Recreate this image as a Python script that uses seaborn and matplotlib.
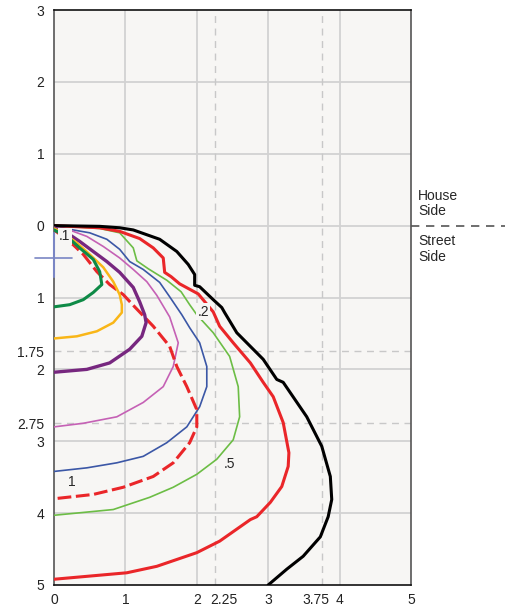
import numpy as np
import pandas as pd
import matplotlib
matplotlib.use("Agg")
import matplotlib.pyplot as plt
import matplotlib.transforms as mtransforms
import seaborn as sns

# contour curves (x = distance, y = depth, negative = street side)
black_x = [0, 0.64, 0.92, 1.11, 1.48, 1.72, 1.88, 1.97, 1.97, 2.04, 2.23, 2.35, 2.39, 2.56, 2.79, 2.93, 3.12, 3.21, 3.54, 3.75, 3.87, 3.89, 3.84, 3.73, 3.49, 3.26, 3.00]
black_y = [0, -0.01, -0.03, -0.06, -0.19, -0.36, -0.54, -0.68, -0.83, -0.85, -1.03, -1.14, -1.21, -1.49, -1.72, -1.86, -2.14, -2.18, -2.66, -3.07, -3.49, -3.81, -4.05, -4.33, -4.60, -4.78, -5.0]

red_x = [0, 0.64, 0.92, 1.20, 1.39, 1.53, 1.55, 1.64, 1.76, 2.02, 2.23, 2.32, 2.51, 2.75, 2.93, 3.07, 3.21, 3.29, 3.28, 3.19, 3.03, 2.84, 2.75, 2.32, 2.00, 1.44, 1.02, 0]
red_y = [0, -0.03, -0.08, -0.18, -0.31, -0.45, -0.65, -0.71, -0.81, -0.95, -1.20, -1.40, -1.63, -1.91, -2.18, -2.38, -2.74, -3.16, -3.35, -3.63, -3.85, -4.05, -4.09, -4.39, -4.55, -4.74, -4.83, -4.92]

lgreen_x = [0, 0.64, 0.92, 1.11, 1.16, 1.32, 1.58, 1.78, 1.90, 2.00, 2.23, 2.46, 2.58, 2.60, 2.51, 2.28, 2.00, 1.67, 1.34, 0.83, 0]
lgreen_y = [0, -0.04, -0.10, -0.31, -0.49, -0.60, -0.76, -0.92, -1.10, -1.24, -1.49, -1.82, -2.24, -2.66, -2.98, -3.25, -3.46, -3.64, -3.78, -3.95, -4.03]

blue_x = [0, 0.27, 0.50, 0.74, 0.92, 1.06, 1.25, 1.48, 1.62, 1.79, 1.90, 2.04, 2.14, 2.14, 2.04, 1.86, 1.58, 1.25, 0.88, 0.46, 0]
blue_y = [0, -0.06, -0.10, -0.19, -0.33, -0.50, -0.61, -0.79, -0.99, -1.24, -1.42, -1.63, -1.96, -2.24, -2.52, -2.80, -3.02, -3.21, -3.30, -3.37, -3.42]

magenta_x = [0, 0.27, 0.46, 0.69, 0.92, 1.11, 1.30, 1.44, 1.62, 1.74, 1.67, 1.53, 1.25, 0.88, 0.41, 0]
magenta_y = [-0.03, -0.08, -0.15, -0.29, -0.45, -0.61, -0.78, -0.97, -1.27, -1.63, -1.96, -2.24, -2.46, -2.66, -2.75, -2.80]

purple_x = [0, 0.18, 0.36, 0.55, 0.74, 0.92, 1.11, 1.20, 1.27, 1.29, 1.23, 1.06, 0.78, 0.46, 0]
purple_y = [-0.03, -0.10, -0.22, -0.36, -0.50, -0.65, -0.86, -1.06, -1.24, -1.35, -1.54, -1.72, -1.91, -2.00, -2.04]

rdash_x = [0, 0.22, 0.41, 0.60, 0.78, 0.97, 1.13, 1.39, 1.62, 1.72, 1.86, 2.00, 2.00, 1.90, 1.67, 1.39, 0.97, 0.55, 0]
rdash_y = [-0.06, -0.22, -0.40, -0.64, -0.82, -0.96, -1.13, -1.40, -1.68, -1.96, -2.24, -2.56, -2.80, -3.02, -3.30, -3.49, -3.64, -3.74, -3.80]

orange_x = [0, 0.13, 0.32, 0.50, 0.69, 0.83, 0.92, 0.95, 0.95, 0.83, 0.60, 0.32, 0]
orange_y = [-0.04, -0.10, -0.24, -0.40, -0.58, -0.78, -0.96, -1.10, -1.21, -1.35, -1.47, -1.54, -1.57]

dgreen_x = [0, 0.18, 0.36, 0.55, 0.64, 0.67, 0.55, 0.41, 0.22, 0]
dgreen_y = [-0.06, -0.15, -0.31, -0.47, -0.64, -0.82, -0.93, -1.03, -1.10, -1.13]

x_ticks = [0, 1, 2, 2.25, 3, 3.75, 4, 5]
x_labels = ["0", "1", "2", "2.25", "3", "3.75", "4", "5"]
y_ticks = [3, 2, 1, 0, -1, -1.75, -2, -2.75, -3, -4, -5]
y_labels = ["3", "2", "1", "0", "1", "1.75", "2", "2.75", "3", "4", "5"]

contour_labels = [".1", ".2", ".5", "1"]
label_x = [0.15, 2.09, 2.46, 0.25]
label_y = [-0.15, -1.20, -3.32, -3.56]

sns.set_style("white")
plt.rcParams['font.family'] = ['Liberation Sans', 'DejaVu Sans']

fig = plt.figure(figsize=(5.05, 6.08), dpi=100)
ax = fig.add_axes([54 / 505, 1 - 585 / 608, 357 / 505, 575 / 608])
ax.set_facecolor("#f7f6f4")

# grid
for gx in [1, 2, 3, 4]:
    ax.axvline(gx, color="#d2d2d2", lw=1.3, zorder=1)
for gy in [2, 1, 0, -1, -2, -3, -4]:
    ax.axhline(gy, color="#d2d2d2", lw=1.3, zorder=1)
for gx in [2.25, 3.75]:
    ax.axvline(gx, color="#c8c8c8", lw=1, dashes=(5, 4), zorder=1)
for gy in [-1.75, -2.75]:
    ax.axhline(gy, color="#c8c8c8", lw=1, dashes=(5, 4), zorder=1)

curves = [
    (lgreen_x, lgreen_y, "#6cbd45", 1.2, None),
    (blue_x, blue_y, "#3b57a6", 1.2, None),
    (magenta_x, magenta_y, "#c561b5", 1.2, None),
    (red_x, red_y, "#ea2629", 2.2, None),
    (black_x, black_y, "#000000", 2.2, None),
    (rdash_x, rdash_y, "#ea2629", 2.2, (4.5, 1.5)),
    (purple_x, purple_y, "#77277f", 2.4, None),
    (orange_x, orange_y, "#f9b617", 1.8, None),
    (dgreen_x, dgreen_y, "#0e8a46", 2.2, None),
]
for cx, cy, col, lw, dash in curves:
    df = pd.DataFrame({"x": cx, "y": cy})
    sns.lineplot(data=df, x="x", y="y", sort=False, estimator=None,
                 color=col, lw=lw, ax=ax, zorder=3)
    if dash is not None:
        ax.lines[-1].set_dashes(dash)

for t, lx, ly in zip(contour_labels, label_x, label_y):
    ax.text(lx, ly, t, fontsize=10, ha="center", va="center", zorder=5,
            bbox=dict(facecolor="#f7f6f4", edgecolor="none", pad=1))

# blue marker at the left edge
ax.plot([-0.27, 0.25], [-0.445, -0.445], color="#7a86c4", lw=1.2, clip_on=False, zorder=6)
ax.plot([0, 0], [-0.1, -0.71], color="#7a86c4", lw=1.5, clip_on=False, zorder=6)

ax.set_xlim(0, 5)
ax.set_ylim(-5, 3)
ax.set_xticks(x_ticks)
ax.set_xticklabels(x_labels)
ax.set_yticks(y_ticks)
ax.set_yticklabels(y_labels)
ax.tick_params(length=0, labelsize=10, colors="#222222")
ax.tick_params(axis="y", pad=7)
ax.tick_params(axis="x", pad=6)
ax.set_xlabel("")
ax.set_ylabel("")

# nudge the crowded x labels apart like the original
nudge = {"2.25": 7, "3.75": -4.5}
for lab in ax.get_xticklabels():
    dx = nudge.get(lab.get_text(), 0)
    if dx:
        lab.set_transform(lab.get_transform() +
                          mtransforms.ScaledTranslation(dx / 72, 0, fig.dpi_scale_trans))

for s in ax.spines.values():
    s.set_color("#555555")
    s.set_linewidth(1.2)
ax.spines["top"].set_color("#111111")
ax.spines["bottom"].set_color("#111111")

# house / street side divider
ax.plot([5, 6.35], [0, 0], color="#555555", lw=1.2, dashes=(5, 4), clip_on=False)
ax.text(5.1, 0.1, "House\nSide", fontsize=10, ha="left", va="bottom", linespacing=1.15)
ax.text(5.1, -0.12, "Street\nSide", fontsize=10, ha="left", va="top", linespacing=1.15)

fig.savefig("out.png", dpi=100)
